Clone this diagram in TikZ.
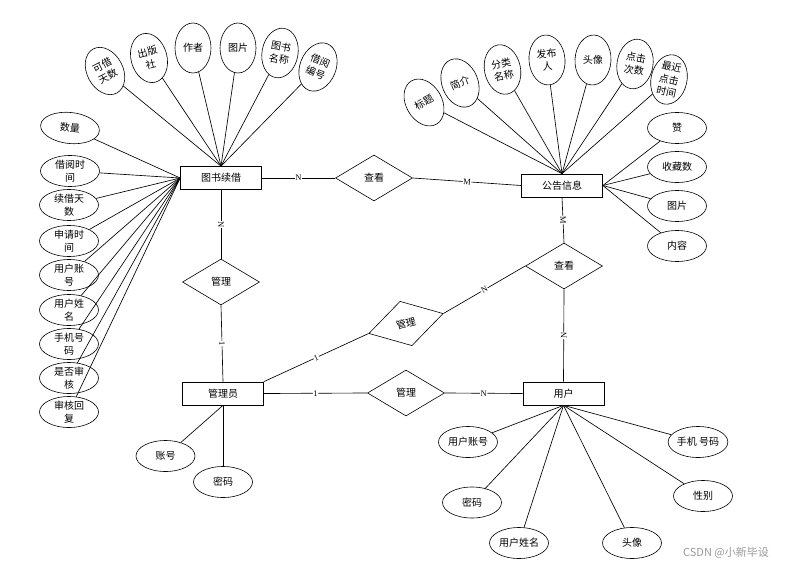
\documentclass[tikz,border=0pt]{standalone}
\usepackage{fontspec}
\setmainfont{Liberation Serif}
\newfontfamily\cjk{Noto Sans CJK SC}
\usetikzlibrary{shapes.geometric}

\begin{document}
\begin{tikzpicture}[x=1pt,y=-1pt,
  txt/.style={font=\cjk\fontsize{10}{12.5}\selectfont},
  ent/.style={draw, txt, line width=0.7pt, minimum width=81pt, minimum height=23pt, inner sep=0pt},
  rel/.style={draw, txt, diamond, line width=0.6pt, minimum width=77pt, minimum height=46pt, inner sep=0pt},
  attr/.style={draw, txt, ellipse, line width=0.6pt, minimum width=59pt, minimum height=31pt, inner sep=0pt, align=center},
  tall/.style={attr, minimum width=36pt, minimum height=50pt},
  link/.style={line width=0.65pt},
  card/.style={fill=white, inner sep=0.6pt, sloped, font=\fontsize{8.5}{9}\selectfont}
]
\useasboundingbox[fill=white] (0,0) rectangle (789,567);

% entities
\node[ent] (bk)  at (221,178)   {图书续借};
\node[ent] (gg)  at (562,185.5) {公告信息};
\node[ent] (gly) at (223,393.5) {管理员};
\node[ent] (yh)  at (563.5,393.5) {用户};

% relationships
\node[rel] (ck1) at (374,178) {查看};
\node[rel] (ck2) at (564,266) {查看};
\node[rel] (gl1) at (221,282) {管理};
\node[rel] (gl2) at (406,393) {管理};
\node[rel, rotate=15] (gl3) at (406,323.5) {管理};

% relationship links with cardinalities
\draw[link] (bk.east) -- node[card]{N} (ck1.west);
\draw[link] (ck1.east) -- node[card]{M} (gg.west);
\draw[link] (gg.south) -- node[card]{M} (ck2.north);
\draw[link] (ck2.south) -- node[card]{N} (yh.north);
\draw[link] (bk.south) -- node[card]{N} (gl1.north);
\draw[link] (gl1.south) -- node[card]{1} (gly.north);
\draw[link] (gly.north east) -- node[card]{1} (gl3.west);
\draw[link] (gl3.east) -- node[card]{N} (ck2.west);
\draw[link] (gly.east) -- node[card]{1} (gl2.west);
\draw[link] (gl2.east) -- node[card]{N} (yh.west);

% attributes of 图书续借: top fan
\node[tall, rotate=28]  (a1) at (105,71) {可借\\天数};
\node[tall, rotate=15]  (a2) at (149,58) {出版\\社};
\node[tall]             (a3) at (193,48) {作者};
\node[tall]             (a4) at (238,48) {图片};
\node[tall, rotate=-10] (a5) at (280,53) {图书\\名称};
\node[tall, rotate=-22] (a6) at (318,67) {借阅\\编号};
\foreach \n in {a1,a2,a3,a4,a5,a6} \draw[link] (\n) -- (bk.north);

% attributes of 图书续借: left column
\node[attr, rotate=-6] (b1) at (70,128) {数量};
\node[attr] (b2) at (70,171) {借阅时\\间};
\node[attr] (b3) at (69,205) {续借天\\数};
\node[attr] (b4) at (69,241) {申请时\\间};
\node[attr] (b5) at (69,275) {用户账\\号};
\node[attr] (b6) at (69,310) {用户姓\\名};
\node[attr] (b7) at (69,344) {手机号\\码};
\node[attr] (b8) at (69,378) {是否审\\核};
\node[attr] (b9) at (69,412) {审核回\\复};
\foreach \n in {b1,b2,b3,b4,b5,b6,b7,b8,b9} \draw[link] (\n) -- (bk.west);

% attributes of 公告信息: top fan
\node[tall, rotate=30]  (c1) at (424,102.5) {标题};
\node[tall, rotate=22]  (c2) at (460,83)    {简介};
\node[tall, rotate=12]  (c3) at (502.5,69.5) {分类\\名称};
\node[tall, rotate=5]   (c4) at (547,60)    {发布\\人};
\node[tall, rotate=-3]  (c5) at (593,60)    {头像};
\node[tall, rotate=-10] (c6) at (635,64)    {点击\\次数};
\node[tall, rotate=-12] (c7) at (669,79.5)  {最近\\点击\\时间};
\foreach \n in {c1,c2,c3,c4,c5,c6,c7} \draw[link] (\n) -- (gg.north);

% attributes of 公告信息: right column
\node[attr] (d1) at (677,128) {赞};
\node[attr] (d2) at (677,167) {收藏数};
\node[attr] (d3) at (677,206) {图片};
\node[attr] (d4) at (677,246) {内容};
\foreach \n in {d1,d2,d3,d4} \draw[link] (\n) -- (gg.east);

% attributes of 管理员
\node[attr] (e1) at (165.5,456) {账号};
\node[attr] (e2) at (223,482)   {密码};
\foreach \n in {e1,e2} \draw[link] (\n) -- (gly.south);

% attributes of 用户
\node[attr] (f1) at (468,442)   {用户账号};
\node[attr] (f2) at (472,502.5) {密码};
\node[attr] (f3) at (519,543)   {用户姓名};
\node[attr] (f4) at (632,543)   {头像};
\node[attr] (f5) at (703,496)   {性别};
\node[attr] (f6) at (698,442)   {手机 号码};
\foreach \n in {f1,f2,f3,f4,f5,f6} \draw[link] (\n) -- (yh.south);

% watermark
\node[font=\cjk\fontsize{11}{12}\selectfont, text=black!40] (wm) at (726,553) {CSDN @小新毕设};
\end{tikzpicture}
\end{document}
